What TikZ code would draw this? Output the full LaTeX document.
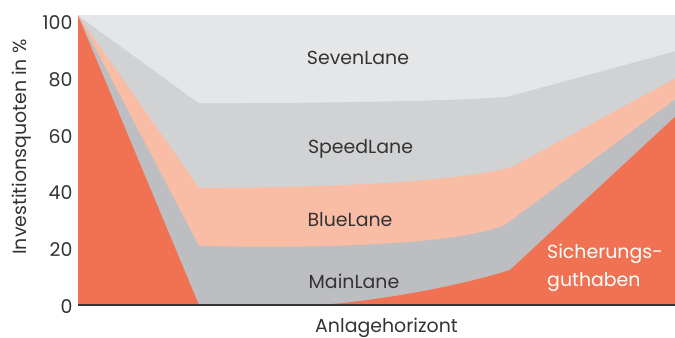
\documentclass[tikz,border=0pt]{standalone}
\usepackage{fontspec}
\setmainfont{Poppins}
\definecolor{sevenlane}{RGB}{229,230,232}
\definecolor{speedlane}{RGB}{209,210,212}
\definecolor{bluelane}{RGB}{249,189,166}
\definecolor{mainlane}{RGB}{189,190,193}
\definecolor{sicherung}{RGB}{241,113,83}
\definecolor{txt}{RGB}{51,51,51}

\begin{document}
\begin{tikzpicture}[x=1bp,y=2.83bp,
    every node/.style={inner sep=0pt, text=txt, font=\fontsize{19}{28}\selectfont},
    lane/.style={anchor=base},
    tick/.style={anchor=base east}]
  \useasboundingbox (-78,-11.66) rectangle (597,107.77);
  % Flaechen von oben nach unten
  \fill[sevenlane] (0,0) rectangle (597,102.3);
  \fill[speedlane] (0,102.3) -- (121,71.2) .. controls (250,71.4) and (380,72) .. (430,73.6)
      -- (597,89.6) |- (0,0) -- cycle;
  \fill[bluelane] (0,102.3) -- (121,41.4) .. controls (250,41.4) and (380,43.5) .. (434,48.8)
      -- (597,80) |- (0,0) -- cycle;
  \fill[mainlane] (0,102.3) -- (121,20.9) .. controls (250,19.8) and (380,21.5) .. (427,28.3)
      -- (597,72.6) |- (0,0) -- cycle;
  \fill[sicherung] (0,102.3) -- (121,0) -- (242,0) .. controls (300,1.5) and (380,6.5) .. (432,12.4)
      -- (597,66.5) |- (0,0) -- cycle;
  % Achse
  \coordinate (o) at (0,0);
  \coordinate (xend) at (597,0);
  \draw[txt, line width=1.5bp] (o) -- (xend);
  \foreach \v in {0,20,...,100}
    \node[tick] (tick\v) at (-5.3,\v-2.83) {\v};
  \node[anchor=base, rotate=90] (ylabel) at (-51,55.8) {Investitionsquoten in \%};
  \node[anchor=base] (xlabel) at (308.5,-9.6) {Anlagehorizont};
  % Beschriftungen
  \node[lane] (seven) at (280,85.05) {SevenLane};
  \node[lane] (speed) at (282.5,53.36) {SpeedLane};
  \node[lane] (blue) at (272,27.67) {BlueLane};
  \node[lane] (main) at (276,6.0) {MainLane};
  \node[anchor=base west, align=left, text=white] (sich) at (469,6.7) {Sicherungs-\\guthaben};
\end{tikzpicture}
\end{document}
